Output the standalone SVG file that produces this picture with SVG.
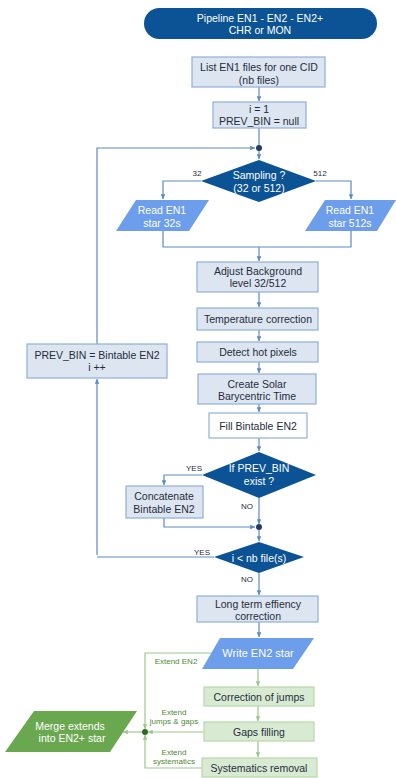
<svg xmlns="http://www.w3.org/2000/svg" width="396" height="778" viewBox="0 0 396 778">
<style>
text{font-family:"Liberation Sans",Arial,sans-serif;text-anchor:middle;dominant-baseline:central}
.t{font-size:10.5px;fill:#1f2d3d}
.w{font-size:10.5px;fill:#ffffff}
.box{fill:#dde6f0;stroke:#8fb0d8;stroke-width:1.2}
.wbox{fill:#ffffff;stroke:#8fb0d8;stroke-width:1.2}
.dia{fill:#0b5394}
.par{fill:#6d9eeb}
.gbox{fill:#d9ead3;stroke:#b6d7a8;stroke-width:1.2}
.gpar{fill:#6aa84f}
.ln{fill:none;stroke:#5b8bc6;stroke-width:1.2}
.gln{fill:none;stroke:#9cc78a;stroke-width:1.2}
.lb{font-size:8px;fill:#1f2d3d}
.glb{font-size:8px;fill:#4e8a36}
</style>
<defs>
<marker id="a" viewBox="0 0 6 6" refX="6" refY="3" markerWidth="4" markerHeight="4" orient="auto"><path d="M0,0L6,3L0,6z" fill="#5b8bc6"/></marker>
<marker id="g" viewBox="0 0 6 6" refX="6" refY="3" markerWidth="4" markerHeight="4" orient="auto"><path d="M0,0L6,3L0,6z" fill="#9cc78a"/></marker>
</defs>
<g id="connectors">
<path class="ln" d="M259,87V101" marker-end="url(#a)"/>
<path class="ln" d="M259,128V159" marker-end="url(#a)"/>
<path class="ln" d="M97,555V379" marker-end="url(#a)"/>
<path class="ln" d="M97,344V148H255" marker-end="url(#a)"/>
<path class="ln" d="M201,181H163V199" marker-end="url(#a)"/>
<path class="ln" d="M316,181H351V199" marker-end="url(#a)"/>
<path class="ln" d="M163,231V247H351V231"/>
<path class="ln" d="M259,247V261" marker-end="url(#a)"/>
<path class="ln" d="M259,292V307" marker-end="url(#a)"/>
<path class="ln" d="M259,330V341" marker-end="url(#a)"/>
<path class="ln" d="M259,362V373" marker-end="url(#a)"/>
<path class="ln" d="M259,404V412" marker-end="url(#a)"/>
<path class="ln" d="M259,438V451" marker-end="url(#a)"/>
<path class="ln" d="M202,475H164V485" marker-end="url(#a)"/>
<path class="ln" d="M164,518V527H255" marker-end="url(#a)"/>
<path class="ln" d="M259,498V524" marker-end="url(#a)"/>
<path class="ln" d="M259,527V541" marker-end="url(#a)"/>
<path class="ln" d="M214,557H97"/>
<path class="ln" d="M259,573V595" marker-end="url(#a)"/>
<path class="ln" d="M259,622V637" marker-end="url(#a)"/>
<circle cx="259" cy="148" r="3" fill="#2b3a5a"/>
<circle cx="259" cy="527" r="3" fill="#2b3a5a"/>
<text class="lb" x="197" y="173">32</text>
<text class="lb" x="320" y="173">512</text>
<text class="lb" x="194" y="468">YES</text>
<text class="lb" x="247" y="506">NO</text>
<text class="lb" x="202" y="552">YES</text>
<text class="lb" x="247" y="579">NO</text>
<path class="gln" d="M258,669V686" marker-end="url(#g)"/>
<path class="gln" d="M258,706V721" marker-end="url(#g)"/>
<path class="gln" d="M258,741V757" marker-end="url(#g)"/>
<path class="gln" d="M215,653H145V729" marker-end="url(#g)"/>
<path class="gln" d="M204,732H148" marker-end="url(#g)"/>
<path class="gln" d="M202,768H145V735" marker-end="url(#g)"/>
<path class="gln" d="M145,732H123" marker-end="url(#g)"/>
<circle cx="145" cy="732" r="3" fill="#2f6b1e"/>
<text class="glb" x="176" y="661">Extend EN2</text>
<text class="glb" x="174" y="712">Extend</text>
<text class="glb" x="174" y="721">jumps &amp; gaps</text>
<text class="glb" x="174" y="752">Extend</text>
<text class="glb" x="174" y="761">systematics</text>
</g>
<g id="title">
<rect x="144" y="8" width="233" height="31" rx="15.5" fill="#0b5394"/>
<text class="w" x="260" y="18">Pipeline EN1 - EN2 - EN2+</text>
<text class="w" x="260" y="30">CHR or MON</text>
</g>
<g id="list">
<rect class="box" x="192" y="57" width="133" height="30"/>
<text class="t" x="259" y="67">List EN1 files for one CID</text>
<text class="t" x="259" y="80">(nb files)</text>
</g>
<g id="init">
<rect class="box" x="213" y="102" width="93" height="26"/>
<text class="t" x="259" y="109">i = 1</text>
<text class="t" x="259" y="121">PREV_BIN = null</text>
</g>
<g id="sampling">
<polygon class="dia" points="259,160 316,181 259,202 201,181"/>
<text class="w" x="259" y="175">Sampling ?</text>
<text class="w" x="259" y="188">(32 or 512)</text>
</g>
<g id="read32">
<polygon class="par" points="136,200 209,200 189,231 116,231"/>
<text class="w" x="162" y="210">Read EN1</text>
<text class="w" x="162" y="223">star 32s</text>
</g>
<g id="read512">
<polygon class="par" points="325,200 396,200 377,231 305,231"/>
<text class="w" x="350" y="210">Read EN1</text>
<text class="w" x="350" y="223">star 512s</text>
</g>
<g id="adjust">
<rect class="box" x="197" y="262" width="121" height="30"/>
<text class="t" x="258" y="271">Adjust Background</text>
<text class="t" x="258" y="283">level 32/512</text>
</g>
<g id="temp">
<rect class="box" x="197" y="308" width="121" height="22"/>
<text class="t" x="258" y="319">Temperature correction</text>
</g>
<g id="hot">
<rect class="box" x="197" y="342" width="121" height="20"/>
<text class="t" x="258" y="352">Detect hot pixels</text>
</g>
<g id="solar">
<rect class="box" x="198" y="374" width="118" height="30"/>
<text class="t" x="257" y="384">Create Solar</text>
<text class="t" x="257" y="396">Barycentric Time</text>
</g>
<g id="fill">
<rect class="wbox" x="209" y="413" width="98" height="25"/>
<text class="t" x="258" y="426">Fill Bintable EN2</text>
</g>
<g id="ifprev">
<polygon class="dia" points="259,452 316,475 259,498 202,475"/>
<text class="w" x="259" y="468">If PREV_BIN</text>
<text class="w" x="259" y="481">exist ?</text>
</g>
<g id="concat">
<rect class="box" x="126" y="486" width="77" height="32"/>
<text class="t" x="164" y="496">Concatenate</text>
<text class="t" x="164" y="509">Bintable EN2</text>
</g>
<g id="prevbin">
<rect class="box" x="27" y="344" width="140" height="34"/>
<text class="t" x="97" y="355">PREV_BIN = Bintable EN2</text>
<text class="t" x="97" y="367">i ++</text>
</g>
<g id="loop">
<polygon class="dia" points="259,542 304,557 259,573 214,557"/>
<text class="w" x="259" y="558">i &lt; nb file(s)</text>
</g>
<g id="longterm">
<rect class="box" x="197" y="596" width="121" height="26"/>
<text class="t" x="258" y="604">Long term effiency</text>
<text class="t" x="258" y="616">correction</text>
</g>
<g id="write">
<polygon class="par" points="220,638 314,638 293,669 202,669"/>
<text class="w" x="258" y="653" style="font-size:11px">Write EN2 star</text>
</g>
<g id="jumps">
<rect class="gbox" x="204" y="687" width="110" height="19"/>
<text class="t" x="259" y="697">Correction of jumps</text>
</g>
<g id="gaps">
<rect class="gbox" x="204" y="722" width="110" height="19"/>
<text class="t" x="259" y="732">Gaps filling</text>
</g>
<g id="sys">
<rect class="gbox" x="202" y="758" width="115" height="19"/>
<text class="t" x="259" y="768">Systematics removal</text>
</g>
<g id="merge">
<polygon class="gpar" points="34,711 137,711 110,752 5,752"/>
<text class="w" x="70" y="726">Merge extends</text>
<text class="w" x="72" y="738">into EN2+ star</text>
</g>
</svg>
